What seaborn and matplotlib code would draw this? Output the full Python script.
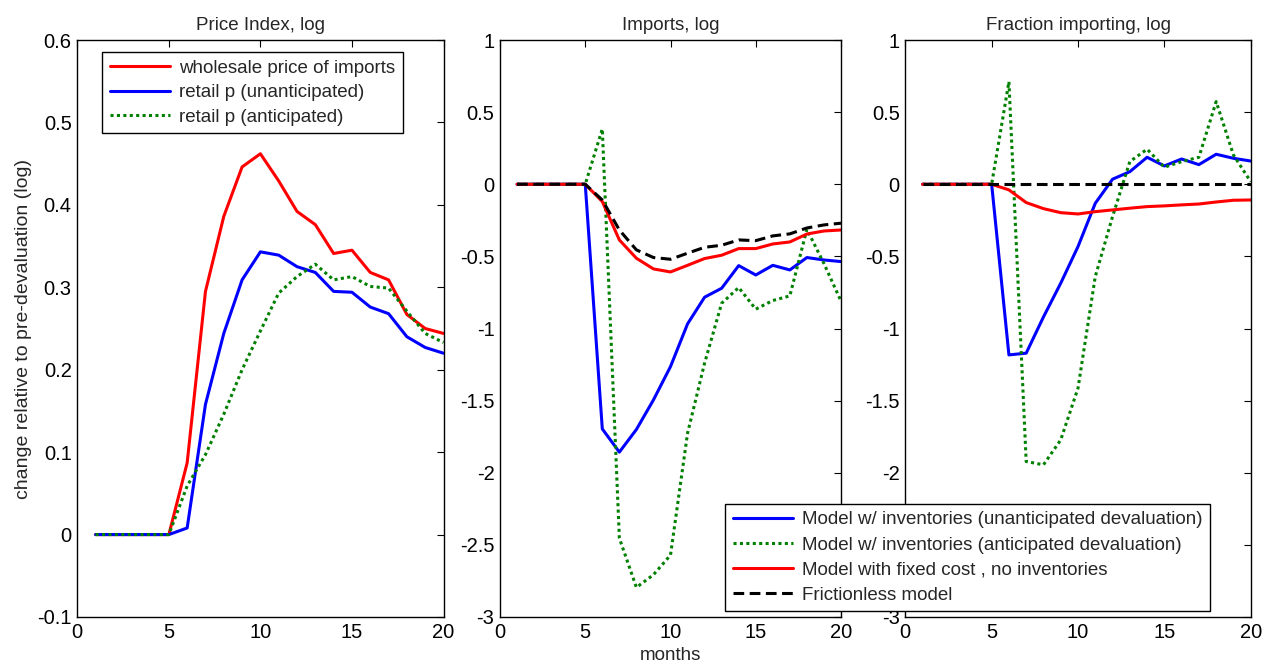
import numpy as np
import pandas as pd
import matplotlib
matplotlib.use("Agg")
import matplotlib.pyplot as plt
from matplotlib.ticker import FuncFormatter
import seaborn as sns

months = list(range(1, 21))

# Panel 1: Price Index, log
p_wholesale = [0, 0, 0, 0, 0, 0.087, 0.295, 0.386, 0.446, 0.462, 0.429, 0.392, 0.376,
               0.341, 0.345, 0.318, 0.309, 0.267, 0.250, 0.244]
p_retail_unant = [0, 0, 0, 0, 0, 0.008, 0.158, 0.244, 0.309, 0.343, 0.339, 0.325, 0.318,
                  0.295, 0.294, 0.276, 0.268, 0.240, 0.227, 0.220]
p_retail_ant = [0, 0, 0, 0, 0, 0.059, 0.097, 0.146, 0.200, 0.247, 0.293, 0.313, 0.328,
                0.309, 0.313, 0.301, 0.299, 0.271, 0.244, 0.233]

# Panel 2: Imports, log
imp_unant = [0, 0, 0, 0, 0, -1.696, -1.857, -1.70, -1.495, -1.264, -0.968, -0.783, -0.721,
             -0.564, -0.629, -0.562, -0.594, -0.508, -0.525, -0.536]
imp_ant = [0, 0, 0, 0, 0, 0.383, -2.453, -2.795, -2.707, -2.571, -1.726, -1.24, -0.825,
           -0.716, -0.866, -0.806, -0.774, -0.312, -0.55, -0.81]
imp_fixed = [0, 0, 0, 0, 0, -0.12, -0.386, -0.513, -0.587, -0.608, -0.562, -0.515, -0.492,
             -0.446, -0.446, -0.414, -0.40, -0.345, -0.324, -0.317]
imp_frictionless = [0, 0, 0, 0, 0, -0.109, -0.317, -0.455, -0.508, -0.52, -0.478, -0.437,
                    -0.423, -0.386, -0.391, -0.358, -0.344, -0.303, -0.282, -0.27]

# Panel 3: Fraction importing, log
frac_unant = [0, 0, 0, 0, 0, -1.183, -1.171, -0.92, -0.686, -0.432, -0.132, 0.035, 0.087,
              0.187, 0.127, 0.175, 0.136, 0.208, 0.18, 0.161]
frac_ant = [0, 0, 0, 0, 0, 0.711, -1.922, -1.945, -1.772, -1.414, -0.64, -0.224, 0.157,
            0.243, 0.118, 0.157, 0.187, 0.573, 0.203, 0.018]
frac_fixed = [0, 0, 0, 0, 0, -0.039, -0.127, -0.169, -0.197, -0.206, -0.19, -0.178, -0.166,
              -0.155, -0.15, -0.143, -0.137, -0.123, -0.111, -0.109]
frac_frictionless = [0] * 20

titles = ["Price Index, log", "Imports, log", "Fraction importing, log"]
legend1_labels = ["wholesale price of imports", "retail p (unanticipated)", "retail p (anticipated)"]
legend2_labels = ["Model w/ inventories (unanticipated devaluation)",
                  "Model w/ inventories (anticipated devaluation)",
                  "Model with fixed cost , no inventories",
                  "Frictionless model"]

sns.set_style("white")
plt.rcParams['font.family'] = ['Liberation Sans', 'DejaVu Sans']
plt.rcParams['font.size'] = 13

RED = (1, 0, 0)
BLUE = (0, 0, 1)
GREEN = (0, 0.5, 0)
BLACK = (0, 0, 0)
LW = 2.2
DOT = (0, (1, 1.1))
DASH = (0, (3.5, 1.8))

fig = plt.figure(figsize=(12.74, 6.66), dpi=100)
ax1 = fig.add_axes([77.3 / 1274, 1 - 617 / 666, (443.5 - 77.3) / 1274, 577 / 666])
ax2 = fig.add_axes([500 / 1274, 1 - 617 / 666, (841 - 500) / 1274, 577 / 666])
ax3 = fig.add_axes([905.3 / 1274, 1 - 617 / 666, (1250.7 - 905.3) / 1274, 577 / 666])

# Panel 1
sns.lineplot(x=months, y=p_wholesale, ax=ax1, color=RED, lw=LW, label=legend1_labels[0], legend=False)
sns.lineplot(x=months, y=p_retail_unant, ax=ax1, color=BLUE, lw=LW, label=legend1_labels[1], legend=False)
sns.lineplot(x=months, y=p_retail_ant, ax=ax1, color=GREEN, lw=LW, linestyle=DOT, label=legend1_labels[2], legend=False)

# Panel 2
sns.lineplot(x=months, y=imp_unant, ax=ax2, color=BLUE, lw=LW, label=legend2_labels[0], legend=False)
sns.lineplot(x=months, y=imp_ant, ax=ax2, color=GREEN, lw=LW, linestyle=DOT, label=legend2_labels[1], legend=False)
sns.lineplot(x=months, y=imp_fixed, ax=ax2, color=RED, lw=LW, label=legend2_labels[2], legend=False)
sns.lineplot(x=months, y=imp_frictionless, ax=ax2, color=BLACK, lw=LW, linestyle=DASH, label=legend2_labels[3], legend=False)

# Panel 3
sns.lineplot(x=months, y=frac_unant, ax=ax3, color=BLUE, lw=LW, legend=False)
sns.lineplot(x=months, y=frac_ant, ax=ax3, color=GREEN, lw=LW, linestyle=DOT, legend=False)
sns.lineplot(x=months, y=frac_fixed, ax=ax3, color=RED, lw=LW, legend=False)
sns.lineplot(x=months, y=frac_frictionless, ax=ax3, color=BLACK, lw=LW, linestyle=DASH, legend=False)

fmt = FuncFormatter(lambda v, p: ("%g" % round(v, 6)))
for ax, title in zip([ax1, ax2, ax3], titles):
    ax.set_xlim(0, 20)
    ax.set_xticks([0, 5, 10, 15, 20])
    ax.set_title(title, fontsize=13.5, pad=7)
    ax.tick_params(direction="in", top=True, right=True, length=5, width=0.8,
                   labelsize=14.5, colors="black", pad=4)
    ax.yaxis.set_major_formatter(fmt)
    ax.xaxis.set_major_formatter(fmt)
    for s in ax.spines.values():
        s.set_visible(True)
        s.set_color("black")
        s.set_linewidth(1.0)
    ax.set_xlabel("")
    ax.set_ylabel("")

ax1.set_ylim(-0.1, 0.6)
ax1.set_yticks(np.arange(-0.1, 0.61, 0.1))
for ax in (ax2, ax3):
    ax.set_ylim(-3, 1)
    ax.set_yticks(np.arange(-3, 1.01, 0.5))

ax1.set_ylabel("change relative to pre-devaluation (log)", fontsize=14, labelpad=4)
ax2.set_xlabel("months", fontsize=13.5, labelpad=4)

h1, l1 = ax1.get_legend_handles_labels()
leg1 = ax1.legend(h1, l1, loc="upper left", bbox_to_anchor=(0.0675, 0.979),
                  borderaxespad=0, fancybox=False, framealpha=1, edgecolor="black",
                  fontsize=13.5, handlelength=3.2, labelspacing=0.4, borderpad=0.4,
                  handletextpad=0.5)
leg1.get_frame().set_linewidth(1.0)

h2, l2 = ax2.get_legend_handles_labels()
leg2 = fig.legend(h2, l2, loc="lower left", bbox_to_anchor=(725 / 1274, 1 - 611 / 666),
                  borderaxespad=0, fancybox=False, framealpha=1, edgecolor="black",
                  fontsize=13.5, handlelength=3.2, labelspacing=0.42, borderpad=0.4,
                  handletextpad=0.5)
leg2.get_frame().set_linewidth(1.0)

fig.savefig("out.png", dpi=100, facecolor="white")
